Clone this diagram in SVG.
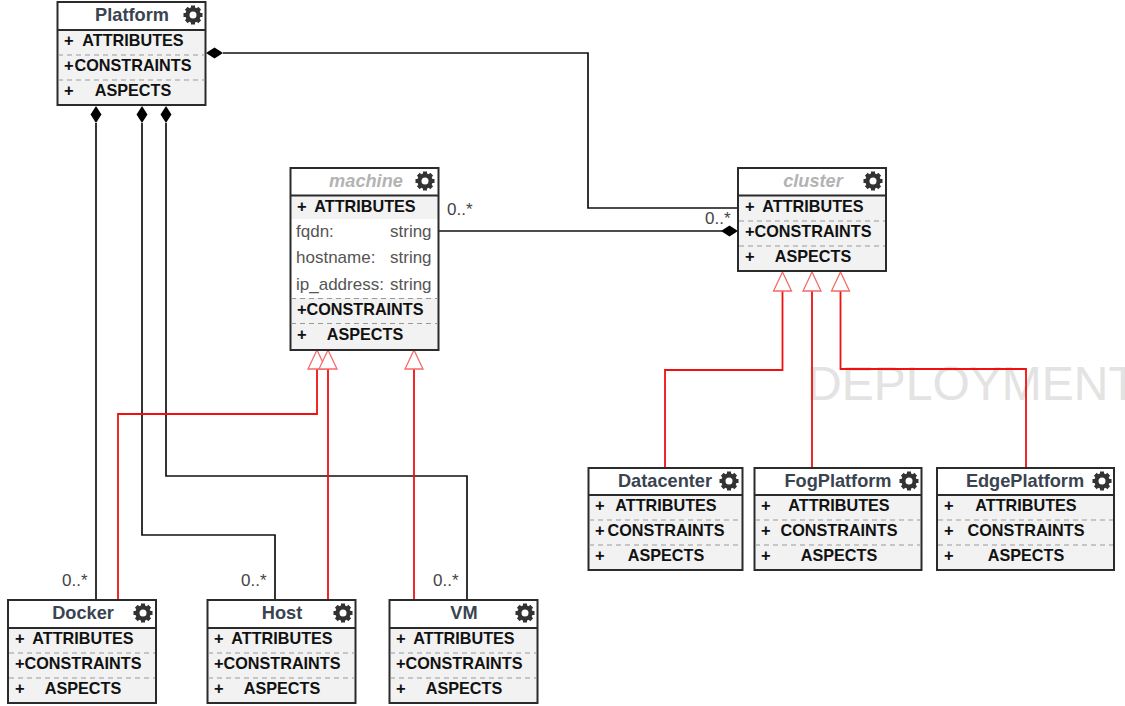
<svg xmlns="http://www.w3.org/2000/svg" width="1125" height="706" viewBox="0 0 1125 706">
<style>
text{font-family:"Liberation Sans",Arial,sans-serif;fill:#000}
.box{fill:none;stroke:#2b2b2b;stroke-width:2}
.sec{fill:#f2f2f2}
.ln{stroke:#2b2b2b;stroke-width:2;fill:none}
.dash{stroke:#999;stroke-width:1;stroke-dasharray:5 4;fill:none}
.t{font-size:18.2px;font-weight:bold;fill:#3a4350;text-anchor:middle}
.ab{font-size:18.2px;font-weight:bold;font-style:italic;fill:#b3b3b3;text-anchor:middle}
.m{font-size:16.2px;font-weight:bold;fill:#111;text-anchor:middle}
.p{font-size:16.5px;font-weight:bold;fill:#111}
.a{font-size:17px;fill:#555}
.c{font-size:17px;fill:#444}
.k{fill:none;stroke:#111;stroke-width:1.7}
.r{fill:none;stroke:#f01010;stroke-width:1.8}
.wm{font-size:48px;fill:#e3e3e3}
</style>
<defs>
<g id="gear" fill="#333">
<circle r="6" fill="none" stroke="#333" stroke-width="3.4"/>
<g id="tt"><rect x="-2" y="-9.5" width="4" height="19"/><rect x="-2" y="-9.5" width="4" height="19" transform="rotate(90)"/></g>
<use href="#tt" transform="rotate(45)"/>
<circle r="3.5" fill="#fff"/>
</g>
<path id="dv" d="M0 0L5.5 8.500L0 17L-5.500 8.500Z" fill="#000"/>
<path id="dh" d="M0 0L8.500 -5.500L17 0L8.500 5.500Z" fill="#000"/>
<path id="tri" d="M0 0L9 19L-9 19Z" fill="#fff" stroke="#f46a6a" stroke-width="1.300"/>
</defs>
<rect width="1125" height="706" fill="#fff"/>
<text class="wm" x="807" y="400">DEPLOYMENT</text>
<g id="connectors">
<path class="k" d="M223 53H588V208H738"/>
<path class="k" d="M438 231H722"/>
<path class="k" d="M96 123V600"/>
<path class="k" d="M142 123V535H275V600"/>
<path class="k" d="M166 123V476H467V600"/>
<use href="#dh" x="206" y="53"/>
<use href="#dh" x="721" y="231"/>
<use href="#dv" x="96" y="106"/>
<use href="#dv" x="142" y="106"/>
<use href="#dv" x="166" y="106"/>
<path class="r" d="M118 600V414H317V369"/>
<path class="r" d="M328 600V369"/>
<path class="r" d="M414 600V369"/>
<path class="r" d="M665 468V370H782.500V291"/>
<path class="r" d="M812 468V291"/>
<path class="r" d="M1026 468V369H840.500V291"/>
<use href="#tri" x="317" y="350"/>
<use href="#tri" x="328" y="350"/>
<use href="#tri" x="414" y="350"/>
<use href="#tri" x="782.500" y="272"/>
<use href="#tri" x="812" y="272"/>
<use href="#tri" x="840.500" y="272"/>
<text class="c" x="447" y="215">0..*</text>
<text class="c" x="705" y="224">0..*</text>
<text class="c" x="62" y="586">0..*</text>
<text class="c" x="241" y="586">0..*</text>
<text class="c" x="433" y="586">0..*</text>
</g>
<g id="platform">
<rect class="sec" x="57.500" y="2" width="148" height="103"/>
<rect x="57.500" y="2" width="148" height="28" fill="#fff"/>
<rect class="box" x="57.500" y="2" width="148" height="103"/>
<path class="ln" d="M57.500 30H205.500"/><path class="dash" d="M58 55H205M58 80H205"/>
<text class="t" x="132" y="21">Platform</text><use href="#gear" x="193" y="15"/>
<text class="p" x="64" y="46">+</text><text class="m" x="133" y="46">ATTRIBUTES</text>
<text class="p" x="64" y="71">+</text><text class="m" x="133" y="71">CONSTRAINTS</text>
<text class="p" x="64" y="96">+</text><text class="m" x="133" y="96">ASPECTS</text>
</g>
<g id="machine">
<rect class="sec" x="290.500" y="168" width="148" height="182"/>
<rect x="290.500" y="168" width="148" height="28" fill="#fff"/>
<rect x="291" y="219" width="147" height="79" fill="#fff"/>
<rect class="box" x="290.500" y="168" width="148" height="182"/>
<path class="ln" d="M290.500 195.500H438.500"/><path class="dash" d="M291 298.500H438M291 323.500H438"/>
<text class="ab" x="366" y="187">machine</text><use href="#gear" x="425" y="181"/>
<text class="p" x="297" y="212">+</text><text class="m" x="365" y="212">ATTRIBUTES</text>
<text class="a" x="296" y="237">fqdn:</text><text class="a" x="390" y="237">string</text>
<text class="a" x="296" y="263">hostname:</text><text class="a" x="390" y="263">string</text>
<text class="a" x="296" y="290">ip_address:</text><text class="a" x="390" y="290">string</text>
<text class="p" x="297" y="315">+</text><text class="m" x="365" y="315">CONSTRAINTS</text>
<text class="p" x="297" y="340">+</text><text class="m" x="365" y="340">ASPECTS</text>
</g>
<g id="cluster">
<rect class="sec" x="738" y="168" width="148" height="103"/>
<rect x="738" y="168" width="148" height="28" fill="#fff"/>
<rect class="box" x="738" y="168" width="148" height="103"/>
<path class="ln" d="M738 195.500H886"/><path class="dash" d="M739 221H885M739 246H885"/>
<text class="ab" x="813" y="187">cluster</text><use href="#gear" x="873" y="181"/>
<text class="p" x="745" y="212">+</text><text class="m" x="813" y="212">ATTRIBUTES</text>
<text class="p" x="745" y="237">+</text><text class="m" x="813" y="237">CONSTRAINTS</text>
<text class="p" x="745" y="262">+</text><text class="m" x="813" y="262">ASPECTS</text>
</g>
<g id="docker">
<rect class="sec" x="8" y="600" width="148" height="103"/>
<rect x="8" y="600" width="148" height="28" fill="#fff"/>
<rect class="box" x="8" y="600" width="148" height="103"/>
<path class="ln" d="M8 628H156"/><path class="dash" d="M9 653H155M9 678H155"/>
<text class="t" x="83" y="619">Docker</text><use href="#gear" x="143" y="613"/>
<text class="p" x="15" y="644">+</text><text class="m" x="83" y="644">ATTRIBUTES</text>
<text class="p" x="15" y="669">+</text><text class="m" x="83" y="669">CONSTRAINTS</text>
<text class="p" x="15" y="694">+</text><text class="m" x="83" y="694">ASPECTS</text>
</g>
<g id="host">
<rect class="sec" x="207.500" y="600" width="148" height="103"/>
<rect x="207.500" y="600" width="148" height="28" fill="#fff"/>
<rect class="box" x="207.500" y="600" width="148" height="103"/>
<path class="ln" d="M207.500 628H355.500"/><path class="dash" d="M208 653H355M208 678H355"/>
<text class="t" x="282" y="619">Host</text><use href="#gear" x="343" y="613"/>
<text class="p" x="214" y="644">+</text><text class="m" x="282" y="644">ATTRIBUTES</text>
<text class="p" x="214" y="669">+</text><text class="m" x="282" y="669">CONSTRAINTS</text>
<text class="p" x="214" y="694">+</text><text class="m" x="282" y="694">ASPECTS</text>
</g>
<g id="vm">
<rect class="sec" x="389.500" y="600" width="148" height="103"/>
<rect x="389.500" y="600" width="148" height="28" fill="#fff"/>
<rect class="box" x="389.500" y="600" width="148" height="103"/>
<path class="ln" d="M389.500 628H537.500"/><path class="dash" d="M390 653H537M390 678H537"/>
<text class="t" x="464" y="619">VM</text><use href="#gear" x="525" y="613"/>
<text class="p" x="396" y="644">+</text><text class="m" x="464" y="644">ATTRIBUTES</text>
<text class="p" x="396" y="669">+</text><text class="m" x="464" y="669">CONSTRAINTS</text>
<text class="p" x="396" y="694">+</text><text class="m" x="464" y="694">ASPECTS</text>
</g>
<g id="datacenter">
<rect class="sec" x="588.500" y="468" width="154" height="102"/>
<rect x="588.500" y="468" width="154" height="27" fill="#fff"/>
<rect class="box" x="588.500" y="468" width="154" height="102"/>
<path class="ln" d="M588.500 495H742.500"/><path class="dash" d="M589 520H742M589 545H742"/>
<text class="t" x="665" y="487">Datacenter</text><use href="#gear" x="729" y="481"/>
<text class="p" x="595" y="511">+</text><text class="m" x="666" y="511">ATTRIBUTES</text>
<text class="p" x="595" y="536">+</text><text class="m" x="666" y="536">CONSTRAINTS</text>
<text class="p" x="595" y="561">+</text><text class="m" x="666" y="561">ASPECTS</text>
</g>
<g id="fogplatform">
<rect class="sec" x="754.500" y="468" width="167" height="102"/>
<rect x="754.500" y="468" width="167" height="27" fill="#fff"/>
<rect class="box" x="754.500" y="468" width="167" height="102"/>
<path class="ln" d="M754.500 495H921.500"/><path class="dash" d="M755 520H921M755 545H921"/>
<text class="t" x="838" y="487">FogPlatform</text><use href="#gear" x="909" y="481"/>
<text class="p" x="761" y="511">+</text><text class="m" x="839" y="511">ATTRIBUTES</text>
<text class="p" x="761" y="536">+</text><text class="m" x="839" y="536">CONSTRAINTS</text>
<text class="p" x="761" y="561">+</text><text class="m" x="839" y="561">ASPECTS</text>
</g>
<g id="edgeplatform">
<rect class="sec" x="937" y="468" width="177" height="102"/>
<rect x="937" y="468" width="177" height="27" fill="#fff"/>
<rect class="box" x="937" y="468" width="177" height="102"/>
<path class="ln" d="M937 495H1114"/><path class="dash" d="M938 520H1113M938 545H1113"/>
<text class="t" x="1025" y="487">EdgePlatform</text><use href="#gear" x="1102" y="481"/>
<text class="p" x="944" y="511">+</text><text class="m" x="1026" y="511">ATTRIBUTES</text>
<text class="p" x="944" y="536">+</text><text class="m" x="1026" y="536">CONSTRAINTS</text>
<text class="p" x="944" y="561">+</text><text class="m" x="1026" y="561">ASPECTS</text>
</g>
</svg>
